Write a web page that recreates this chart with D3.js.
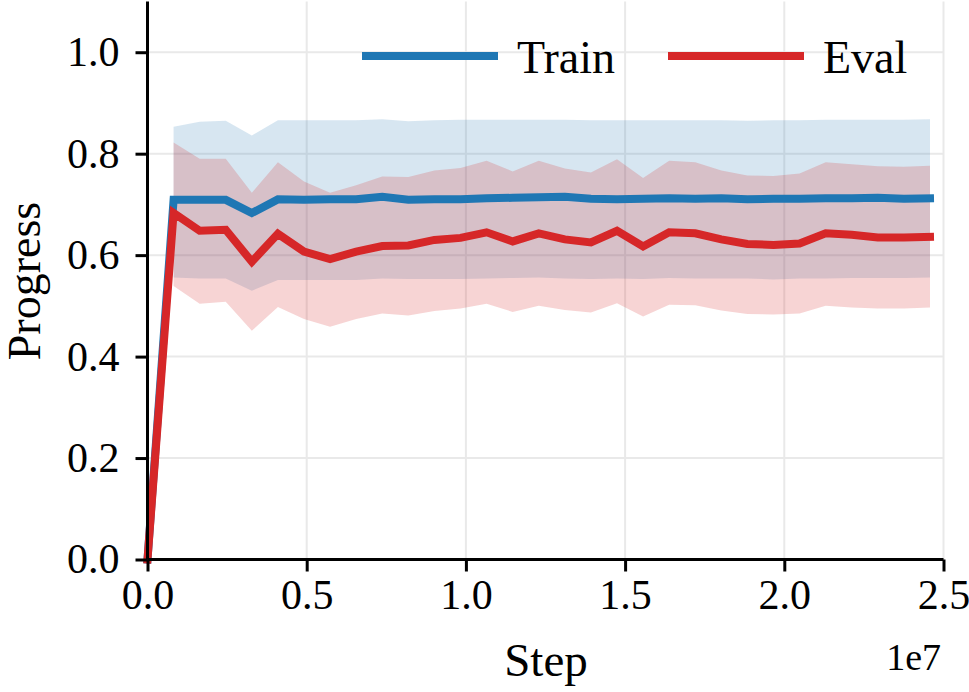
<!DOCTYPE html>
<html>
<head>
<meta charset="utf-8">
<script src="https://cdn.jsdelivr.net/npm/d3@7"></script>
<style>
  body { margin: 0; background: #fff; }
  svg { display: block; font-family: "Liberation Serif", "Times New Roman", serif; }
</style>
</head>
<body>
<svg id="progress-chart" width="969" height="692"></svg>
<script>
// Training steps (in units of 1e7 on the axis):
var steps = [0, 819200, 1638400, 2457600, 3276800, 4096000, 4915200, 5734400,
    6553600, 7372800, 8192000, 9011200, 9830400, 10649600, 11468800, 12288000,
    13107200, 13926400, 14745600, 15564800, 16384000, 17203200, 18022400,
    18841600, 19660800, 20480000, 21299200, 22118400, 22937600, 23756800, 24576000];

var train_mean = [0, .709, .709, .709, .683, .710, .709, .710, .710, .715,
    .709, .710, .710, .712, .713, .714, .715, .711, .710, .711,
    .712, .711, .712, .710, .711, .711, .712, .712, .713, .711, .712];
var train_upper = [null, .853, .863, .865, .836, .866, .866, .866, .866, .868,
    .864, .866, .867, .867, .867, .867, .867, .866, .866, .866,
    .866, .866, .866, .865, .866, .866, .867, .867, .867, .867, .868];
var train_lower = [null, .556, .554, .554, .530, .551, .551, .551, .551, .554,
    .553, .553, .553, .554, .555, .556, .554, .553, .554, .553,
    .555, .554, .554, .554, .552, .554, .554, .555, .555, .555, .556];

var eval_mean = [0, .683, .648, .650, .587, .642, .607, .592, .607, .618,
    .619, .630, .634, .645, .627, .643, .631, .625, .648, .617,
    .645, .643, .631, .622, .620, .623, .643, .640, .635, .635, .636];
var eval_upper = [null, .822, .790, .790, .723, .783, .745, .723, .738, .755,
    .754, .767, .772, .786, .765, .786, .771, .763, .789, .752,
    .786, .783, .767, .757, .756, .761, .783, .779, .775, .774, .776];
var eval_lower = [null, .539, .504, .508, .451, .498, .474, .459, .474, .485,
    .481, .490, .495, .504, .488, .500, .492, .487, .505, .479,
    .502, .501, .491, .484, .483, .485, .500, .497, .495, .495, .497];

var x_ticks = [0, 5e6, 1e7, 1.5e7, 2e7, 2.5e7];
var y_ticks = [0, 0.2, 0.4, 0.6, 0.8, 1.0];

var series = [
    {name: "Train", color: "#1f77b4", alpha: 0.18, mean: train_mean, upper: train_upper, lower: train_lower},
    {name: "Eval", color: "#d62728", alpha: 0.2, mean: eval_mean, upper: eval_upper, lower: eval_lower}
];

var svg = d3.select("#progress-chart");

var x = d3.scaleLinear().domain([0, 2.5e7]).range([147.5, 943.5]);
var y = d3.scaleLinear().domain([0, 1.1]).range([559.5, 1.5]);

// Grid lines under everything else:
var grid = svg.append("g").attr("stroke", "#e9e9e9").attr("stroke-width", 2);
grid.selectAll("line.gx").data(x_ticks.slice(1)).enter().append("line")
    .attr("x1", function (d) { return x(d); })
    .attr("x2", function (d) { return x(d); })
    .attr("y1", y.range()[0]).attr("y2", y.range()[1]);
grid.selectAll("line.gy").data(y_ticks.slice(1)).enter().append("line")
    .attr("x1", x.range()[0]).attr("x2", x.range()[1])
    .attr("y1", function (d) { return y(d); })
    .attr("y2", function (d) { return y(d); });

// Shaded bands, then the mean lines on top:
series.forEach(function (s) {
    var area = d3.area()
        .defined(function (d, i) { return s.upper[i] != null; })
        .x(function (d) { return x(d); })
        .y0(function (d, i) { return y(s.lower[i]); })
        .y1(function (d, i) { return y(s.upper[i]); });
    svg.append("path")
        .attr("d", area(steps))
        .attr("fill", s.color)
        .attr("fill-opacity", s.alpha);
});

series.forEach(function (s) {
    var line = d3.line()
        .x(function (d) { return x(d); })
        .y(function (d, i) { return y(s.mean[i]); });
    svg.append("path")
        .attr("d", line(steps))
        .attr("fill", "none")
        .attr("stroke", s.color)
        .attr("stroke-width", 8)
        .attr("stroke-linejoin", "miter")
        .attr("stroke-linecap", "square");
});

// Axes:
var x_axis = svg.append("g")
    .attr("transform", "translate(0," + y.range()[0] + ")")
    .call(d3.axisBottom(x).tickValues(x_ticks).tickSize(12).tickPadding(8)
        .tickFormat(function (d) { return (d / 1e7).toFixed(1); }));
var y_axis = svg.append("g")
    .attr("transform", "translate(" + x.range()[0] + ",0)")
    .call(d3.axisLeft(y).tickValues(y_ticks).tickSize(12).tickPadding(16)
        .tickFormat(d3.format(".1f")));

[x_axis, y_axis].forEach(function (a) {
    a.select(".domain").attr("stroke", "#000").attr("stroke-width", 3);
    a.selectAll(".tick line").attr("stroke", "#000").attr("stroke-width", 3);
    a.selectAll(".tick text")
        .attr("fill", "#000")
        .attr("font-family", "Liberation Serif")
        .attr("font-size", 42);
});
x_axis.select(".domain").attr("d", "M" + x.range()[0] + ",0H" + x.range()[1]);
y_axis.select(".domain").attr("d", "M0," + y.range()[0] + "V" + y.range()[1]);

// Axis labels and offset text:
svg.append("text")
    .attr("x", 546).attr("y", 676)
    .attr("text-anchor", "middle")
    .attr("font-size", 47)
    .text("Step");
svg.append("text")
    .attr("transform", "translate(40,281) rotate(-90)")
    .attr("text-anchor", "middle")
    .attr("font-size", 46)
    .text("Progress");
svg.append("text")
    .attr("x", 941).attr("y", 670)
    .attr("text-anchor", "end")
    .attr("font-size", 38)
    .text("1e7");

// Legend:
var legend_x = [362, 668];
var legend = svg.append("g").selectAll("g").data(series).enter().append("g")
    .attr("transform", function (d, i) { return "translate(" + legend_x[i] + ",56)"; });
legend.append("line")
    .attr("x1", 0).attr("x2", 136)
    .attr("stroke", function (d) { return d.color; })
    .attr("stroke-width", 8);
legend.append("text")
    .attr("x", 155).attr("y", 17)
    .attr("font-size", 46)
    .text(function (d) { return d.name; });
</script>
</body>
</html>
